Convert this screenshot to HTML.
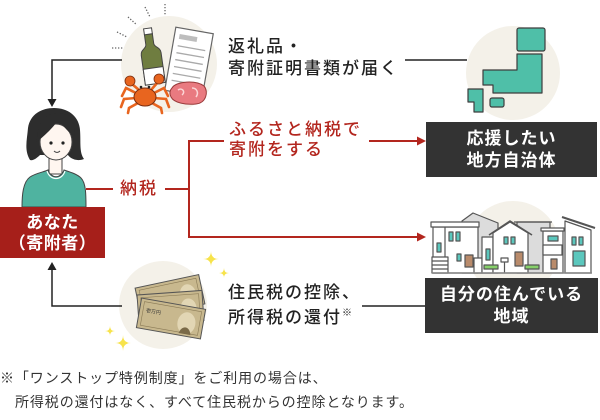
<!DOCTYPE html>
<html><head><meta charset="utf-8">
<style>
html,body{margin:0;padding:0;background:#fff;}
body{width:600px;height:420px;position:relative;overflow:hidden;font-family:"Liberation Sans","Noto Sans CJK JP",sans-serif;}
.t{position:absolute;white-space:nowrap;font-weight:500;}
.lbl{font-size:17px;letter-spacing:2px;color:#222;}
.red{color:#b3261e;}
.box{position:absolute;background:#333;color:#fff;text-align:center;font-size:17px;letter-spacing:1px;line-height:22px;font-weight:700;box-sizing:border-box;}
.note{position:absolute;white-space:nowrap;font-size:14px;letter-spacing:0.9px;line-height:24px;color:#333;left:0;top:366px;}
sup{font-size:10px;vertical-align:7px;letter-spacing:0;}
</style></head><body>
<svg width="600" height="420" viewBox="0 0 600 420" style="position:absolute;left:0;top:0">
<circle cx="169" cy="64" r="48" fill="#f4f1e9"/>
<circle cx="513" cy="73" r="47" fill="#f4f1e9"/>
<circle cx="513" cy="248" r="47" fill="#f4f1e9"/>
<circle cx="163" cy="305" r="44" fill="#f4f1e9"/>

<path d="M122,60 H52 V100" fill="none" stroke="#222" stroke-width="1.5"/>
<path d="M47.5,99 L56.5,99 L52,107 Z" fill="#222"/>
<path d="M405,60 H467" stroke="#222" stroke-width="1.5"/>
<path d="M122,306 H52 V269" fill="none" stroke="#222" stroke-width="1.5"/>
<path d="M47.5,270 L56.5,270 L52,262 Z" fill="#222"/>
<path d="M362,306 H425" stroke="#222" stroke-width="1.5"/>

<g stroke="#b3261e" stroke-width="2" fill="none">
<path d="M86,189 H113"/>
<path d="M165,189 H189"/>
<path d="M224,141 H189 V237 H420"/>
<path d="M369,141 H420"/>
</g>
<path d="M417,136.5 L426,141 L417,145.5 Z" fill="#b3261e"/>
<path d="M417,232.5 L426,237 L417,241.5 Z" fill="#b3261e"/>

<g stroke="#666" stroke-width="1.3" stroke-dasharray="1.3 1.7" fill="none">
<path d="M112,48 L123,48"/>
<path d="M117,32 L127,37"/>
<path d="M128,17 L137,25"/>
<path d="M145,7 L150,17"/>
<path d="M165,4 L165,15"/>
</g>

<g transform="rotate(10 189 62)">
<rect x="170" y="30" width="38" height="64" fill="#fff" stroke="#666" stroke-width="1.2"/>
<rect x="175" y="36" width="18" height="5" fill="#bdbdbd"/>
<g stroke="#aaa" stroke-width="1.3">
<path d="M175,48 H203"/><path d="M175,55 H203"/><path d="M175,62 H203"/><path d="M175,69 H203"/><path d="M175,76 H203"/><path d="M175,83 H203"/>
</g>
</g>

<g transform="rotate(-8 152 60)" stroke="#444" stroke-width="1">
<path d="M148,34 H156 V44 C156,48 162,48 162,54 V84 H142 V54 C142,48 148,48 148,44 Z" fill="#6f7d40"/>
<rect x="142" y="68" width="20" height="16" fill="#fff"/>
<rect x="148" y="28" width="8" height="6" fill="#fff"/>
</g>

<g stroke="#e8651f" stroke-width="2.6" fill="none" stroke-linecap="round">
<path d="M136,93 L126,88 L122,96"/>
<path d="M136,98 L124,99 L121,107"/>
<path d="M138,103 L129,108 L128,113"/>
<path d="M154,93 L164,88 L168,96"/>
<path d="M154,98 L166,99 L169,107"/>
<path d="M152,103 L161,108 L162,113"/>
<path d="M139,90 L132,84"/>
<path d="M151,90 L158,82"/>
</g>
<circle cx="130" cy="81" r="5" fill="#e8651f" stroke="#7a2e10" stroke-width="0.8"/>
<circle cx="159" cy="79" r="5" fill="#e8651f" stroke="#7a2e10" stroke-width="0.8"/>
<ellipse cx="145" cy="97" rx="11" ry="9" fill="#e8651f" stroke="#7a2e10" stroke-width="1"/>
<circle cx="141" cy="87" r="1.3" fill="#222"/><circle cx="149" cy="87" r="1.3" fill="#222"/>

<path d="M172,88 C176,81 196,80 204,86 C209,92 206,103 196,104 C186,105 174,103 171,97 C169,93 170,90 172,88 Z" fill="#e97a80" stroke="#9a3b3b" stroke-width="1"/>
<path d="M178,90 C182,87 186,92 182,95" fill="none" stroke="#fbd6d6" stroke-width="1.5"/>
<path d="M192,88 C197,88 199,93 196,97" fill="none" stroke="#fbd6d6" stroke-width="1.5"/>

<g fill="#4fbfa8" stroke="#3d3d3d" stroke-width="1.2" stroke-linejoin="round">
<rect x="517" y="28" width="28" height="23" rx="2"/>
<path d="M517,54 H542 V93 H493 V85 H483 V70 H517 Z"/>
<path d="M468,89 H483 V112 H474 V102 H468 Z"/>
<rect x="490" y="98" width="14" height="9" rx="2"/>
</g>

<g stroke="#555" stroke-width="1.2" stroke-linejoin="round">
<path d="M462,221 L473,213 L498,223 L498,273 L462,273 Z" fill="#dcdcdc"/>
<rect x="517" y="222" width="33" height="51" fill="#dcdcdc"/>
<path d="M514,222 H552" fill="none"/>
<rect x="433" y="227" width="45" height="46" fill="#fff"/>
<rect x="431" y="222" width="48" height="5" fill="#fff"/>
<path d="M445,227 V257" fill="none"/>
<rect x="437" y="243" width="4" height="9" fill="#5bc7bd"/>
<rect x="449" y="232" width="4" height="9" fill="#5bc7bd"/>
<rect x="456" y="232" width="4" height="9" fill="#5bc7bd"/>
<rect x="457" y="254" width="4" height="7" fill="#5bc7bd"/>
<rect x="465" y="255" width="8" height="12" fill="#b98b6b"/>
<rect x="432" y="257" width="16" height="16" fill="#fff"/>
<path d="M432,261 H448 M432,265 H448 M432,269 H448" fill="none"/>
<rect x="474" y="258" width="8" height="15" fill="#fff"/>
<rect x="482" y="237" width="11" height="36" fill="#fff"/>
<rect x="486" y="249" width="4" height="11" fill="#5bc7bd"/>
<path d="M493,273 V233 L510,222 L528,233 V273 Z" fill="#fff"/>
<path d="M489,235 L510,221 L532,235" fill="none" stroke-width="1.6"/>
<rect x="504" y="237" width="4" height="7" fill="#5bc7bd"/>
<rect x="511" y="237" width="4" height="7" fill="#5bc7bd"/>
<rect x="515" y="252" width="8" height="14" fill="#b98b6b"/>
<rect x="501" y="258" width="7" height="4" fill="#fff"/>
<path d="M504.5,262 V273" fill="none"/>
<rect x="543" y="231" width="20" height="42" fill="#fff"/>
<rect x="541" y="228" width="23" height="3" fill="#fff"/>
<rect x="548" y="236" width="10" height="5" fill="#5bc7bd"/>
<rect x="543" y="245" width="19" height="10" fill="#fff"/>
<rect x="551" y="259" width="6" height="10" fill="#b98b6b"/>
<path d="M565,273 V221 L591,230 V273 Z" fill="#fff"/>
<path d="M562,217 L595,228" fill="none" stroke-width="2"/>
<rect x="572" y="237" width="4" height="8" fill="#5bc7bd"/>
<rect x="579" y="237" width="4" height="8" fill="#5bc7bd"/>
<rect x="573" y="251" width="12" height="15" fill="#5bc7bd"/>
<rect x="484" y="265" width="14" height="4" fill="#86d06a"/>
<rect x="525" y="265" width="14" height="4" fill="#86d06a"/>
<path d="M432,273 H592" fill="none" stroke="#888" stroke-width="1.5"/>
</g>

<path d="M30,160 C24,150 27,140 28,128 C30,114 42,108 54,108 C68,108 79,116 80,130 C81,142 79,152 84,159 C76,162 70,158 68,155 L40,155 C37,158 33,161 30,160 Z" fill="#2d2d2d"/>
<rect x="49" y="154" width="13" height="20" fill="#fff6f0" stroke="#444" stroke-width="1"/>
<ellipse cx="56" cy="142" rx="16" ry="18" fill="#fff6f0" stroke="#444" stroke-width="1"/>
<path d="M37,142 C36,122 47,113 58,113 C69,113 76,121 74,136 C67,131 62,125 59,119 C53,128 45,135 37,142 Z" fill="#2d2d2d"/>
<circle cx="51" cy="143" r="1.6" fill="#222"/>
<circle cx="63" cy="143" r="1.6" fill="#222"/>
<path d="M54,151 Q57,154 60,151" fill="none" stroke="#444" stroke-width="1"/>
<path d="M22,207 C22,195 23,182 30,177 C36,173 44,172 48,170 C51,179 61,179 64,170 C70,172 77,174 81,178 C86,183 86,195 86,207 Z" fill="#4fb3a0" stroke="#444" stroke-width="1"/>
<path d="M47,171 C50,181 62,181 65,171" fill="none" stroke="#fff" stroke-width="1.2"/>

<g stroke="#555" stroke-width="1">
<g transform="translate(170,296) rotate(-12)">
<rect x="-32.5" y="-15" width="65" height="30" fill="#c8b88e"/>
<rect x="-29" y="-12" width="58" height="24" fill="none" stroke="#8a7a55" stroke-width="0.6"/>
<ellipse cx="18" cy="2" rx="8" ry="10" fill="#e2d6b4" stroke="none"/>
</g>
<g transform="translate(170.5,307.7) rotate(-4)">
<rect x="-32.5" y="-15" width="65" height="30" fill="#c8b88e"/>
<rect x="-29" y="-12" width="58" height="24" fill="none" stroke="#8a7a55" stroke-width="0.6"/>
<ellipse cx="18" cy="2" rx="8" ry="10" fill="#e2d6b4" stroke="none"/>
</g>
<g transform="translate(171,318.5) rotate(10)">
<rect x="-32.5" y="-15" width="65" height="30" fill="#c8b88e"/>
<rect x="-29" y="-12" width="58" height="24" fill="none" stroke="#8a7a55" stroke-width="0.6"/>
<ellipse cx="16" cy="2" rx="9" ry="11" fill="#e2d6b4" stroke="none"/>
<path d="M10,13 C12,4 20,4 22,13" fill="#7a6a48" stroke="none"/>
<text x="-26" y="-2" font-size="5" fill="#333" stroke="none" font-family="Noto Sans CJK JP, sans-serif">壱万円</text>
</g>
</g>

<g fill="#f7e34b">
<path d="M211,251 Q211,259 219,259 Q211,259 211,267 Q211,259 203,259 Q211,259 211,251 Z"/>
<path d="M224,268 Q224,273 229,273 Q224,273 224,278 Q224,273 219,273 Q224,273 224,268 Z"/>
<path d="M110,326 Q110,331 115,331 Q110,331 110,336 Q110,331 105,331 Q110,331 110,326 Z"/>
<path d="M123,335 Q123,343 131,343 Q123,343 123,351 Q123,343 115,343 Q123,343 123,335 Z"/>
</g>
</svg>

<div class="t lbl" style="left:228px;top:36px;line-height:22px;">返礼品・<br>寄附証明書類が届く</div>
<div class="t lbl red" style="left:229px;top:120px;line-height:20px;">ふるさと納税で<br>寄附をする</div>
<div class="t lbl red" style="left:120px;top:179px;line-height:20px;">納税</div>
<div class="t lbl" style="left:228px;top:282px;line-height:21px;">住民税の控除、<br>所得税の還付<sup>※</sup></div>

<div class="box" style="left:426px;top:122px;width:171px;height:55px;padding-top:5.5px;">応援したい<br>地方自治体</div>
<div class="box" style="left:425px;top:278px;width:173px;height:55px;padding-top:5.5px;">自分の住んでいる<br>地域</div>
<div class="box" style="left:0;top:207px;width:105px;height:51px;padding-top:4.5px;background:#a61f1a;line-height:21px;letter-spacing:0.5px;">あなた<br>（寄附者）</div>

<div class="note">※「ワンストップ特例制度」をご利用の場合は、<br><span style="padding-left:15px;">所得税の還付はなく、すべて住民税からの控除となります。</span></div>
</body></html>
